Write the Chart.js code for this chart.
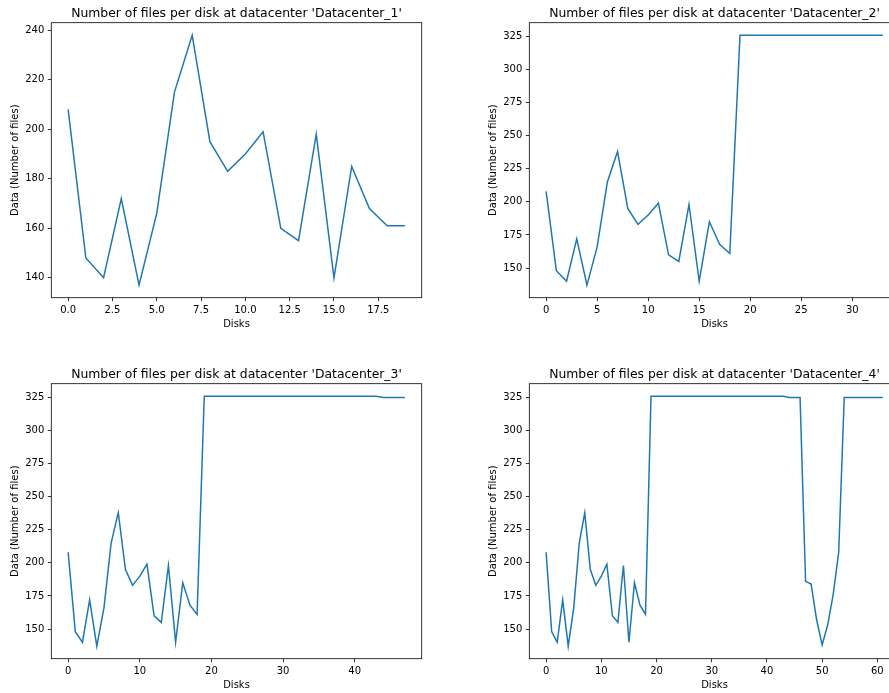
<!DOCTYPE html>
<html>
<head>
<meta charset="utf-8">
<script src="https://cdn.jsdelivr.net/npm/chart.js@4"></script>
<style>
  html, body { margin: 0; padding: 0; background: #fff; overflow: hidden; width: 889px; height: 693px; }
  canvas { position: absolute; }
</style>
</head>
<body>
<canvas id="dc1" width="440" height="345" style="left:0px;top:0px"></canvas>
<canvas id="dc2" width="440" height="345" style="left:478px;top:0px"></canvas>
<canvas id="dc3" width="440" height="345" style="left:0px;top:361px"></canvas>
<canvas id="dc4" width="440" height="345" style="left:478px;top:361px"></canvas>
<script>
// files per disk, one array per datacenter
const dc1Files = [208, 148, 140, 172, 137, 166, 215, 238, 195, 183, 190, 199, 160, 155, 198, 140, 185, 168, 161, 161];
const dc2Files = [208, 148, 140, 172, 137, 166, 215, 238, 195, 183, 190, 199, 160, 155, 198, 140, 185, 168, 161,
  326, 326, 326, 326, 326, 326, 326, 326, 326, 326, 326, 326, 326, 326, 326];
const dc3Files = [208, 148, 140, 172, 137, 166, 215, 238, 195, 183, 190, 199, 160, 155, 198, 140, 185, 168, 161,
  326, 326, 326, 326, 326, 326, 326, 326, 326, 326, 326, 326, 326, 326, 326, 326, 326, 326, 326, 326, 326, 326, 326, 326, 326,
  325, 325, 325, 325];
const dc4Files = [208, 148, 140, 172, 137, 166, 215, 238, 195, 183, 190, 199, 160, 155, 198, 140, 185, 168, 161,
  326, 326, 326, 326, 326, 326, 326, 326, 326, 326, 326, 326, 326, 326, 326, 326, 326, 326, 326, 326, 326, 326, 326, 326, 326,
  325, 325, 325, 186, 184, 157, 138, 153, 176, 208,
  325, 325, 325, 325, 325, 325, 325, 325];

const xTicks1 = [0, 2.5, 5, 7.5, 10, 12.5, 15, 17.5];
const xLabels1 = ['0.0', '2.5', '5.0', '7.5', '10.0', '12.5', '15.0', '17.5'];
const xTicks2 = [0, 5, 10, 15, 20, 25, 30];
const xTicks3 = [0, 10, 20, 30, 40];
const xTicks4 = [0, 10, 20, 30, 40, 50, 60];
const yTicks1 = [140, 160, 180, 200, 220, 240];
const yTicks2 = [150, 175, 200, 225, 250, 275, 300, 325];

Chart.defaults.font.family = "'DejaVu Sans', sans-serif";
Chart.defaults.color = '#000';

// matplotlib style: full box round the axes, title centred over the axes
const framePlugin = {
  id: 'frame',
  afterDraw(chart) {
    const { ctx, chartArea: a } = chart;
    ctx.save();
    ctx.strokeStyle = '#000';
    ctx.lineWidth = 0.8;
    ctx.strokeRect(a.left, a.top, a.right - a.left, a.bottom - a.top);
    ctx.fillStyle = '#000';
    ctx.font = "12.4px 'DejaVu Sans', sans-serif";
    ctx.textAlign = 'center';
    ctx.textBaseline = 'alphabetic';
    ctx.fillText(chart.options.plugins.frame.title, (a.left + a.right) / 2, a.top - 5.8);
    ctx.restore();
  }
};

function margin(lo, hi) {
  const d = (hi - lo) * 0.05;
  return [lo - d, hi + d];
}

function makeChart(id, name, values, xTicks, xLabels, yTicks) {
  const [xMin, xMax] = margin(0, values.length - 1);
  const [yMin, yMax] = margin(Math.min(...values), Math.max(...values));
  const axisGrid = { drawOnChartArea: false, color: '#000', lineWidth: 0.8, tickLength: 3.5 };
  new Chart(document.getElementById(id), {
    type: 'line',
    data: {
      datasets: [{
        data: values.map((v, i) => ({ x: i, y: v })),
        borderColor: '#1f77b4',
        borderWidth: 1.5,
        pointRadius: 0,
        tension: 0,
        fill: false
      }]
    },
    options: {
      responsive: false,
      animation: false,
      events: [],
      layout: { padding: { left: 0, top: 22.7, right: 18.3, bottom: 0 } },
      plugins: {
        legend: { display: false },
        tooltip: { enabled: false },
        title: { display: false },
        frame: { title: "Number of files per disk at datacenter '" + name + "'" }
      },
      scales: {
        x: {
          type: 'linear',
          min: xMin,
          max: xMax,
          grid: axisGrid,
          border: { display: false },
          afterBuildTicks: s => { s.ticks = xTicks.map(v => ({ value: v })); },
          afterFit: s => { s.height = 47.3; },
          ticks: {
            font: { size: 10 },
            color: '#000',
            padding: 3.5,
            maxRotation: 0,
            autoSkip: false,
            callback: (v, i) => xLabels ? xLabels[i] : String(v)
          },
          title: { display: true, text: 'Disks', font: { size: 10 }, color: '#000', padding: { top: 0, bottom: 15 } }
        },
        y: {
          min: yMin,
          max: yMax,
          grid: axisGrid,
          border: { display: false },
          afterBuildTicks: s => { s.ticks = yTicks.map(v => ({ value: v })); },
          afterFit: s => { s.width = 51.3; },
          ticks: { font: { size: 10 }, color: '#000', padding: 3.5, autoSkip: false, callback: v => String(v) },
          title: { display: true, text: 'Data (Number of files)', font: { size: 10 }, color: '#000', padding: { top: 9, bottom: 0 } }
        }
      }
    },
    plugins: [framePlugin]
  });
}

makeChart('dc1', 'Datacenter_1', dc1Files, xTicks1, xLabels1, yTicks1);
makeChart('dc2', 'Datacenter_2', dc2Files, xTicks2, null, yTicks2);
makeChart('dc3', 'Datacenter_3', dc3Files, xTicks3, null, yTicks2);
makeChart('dc4', 'Datacenter_4', dc4Files, xTicks4, null, yTicks2);
</script>
</body>
</html>
